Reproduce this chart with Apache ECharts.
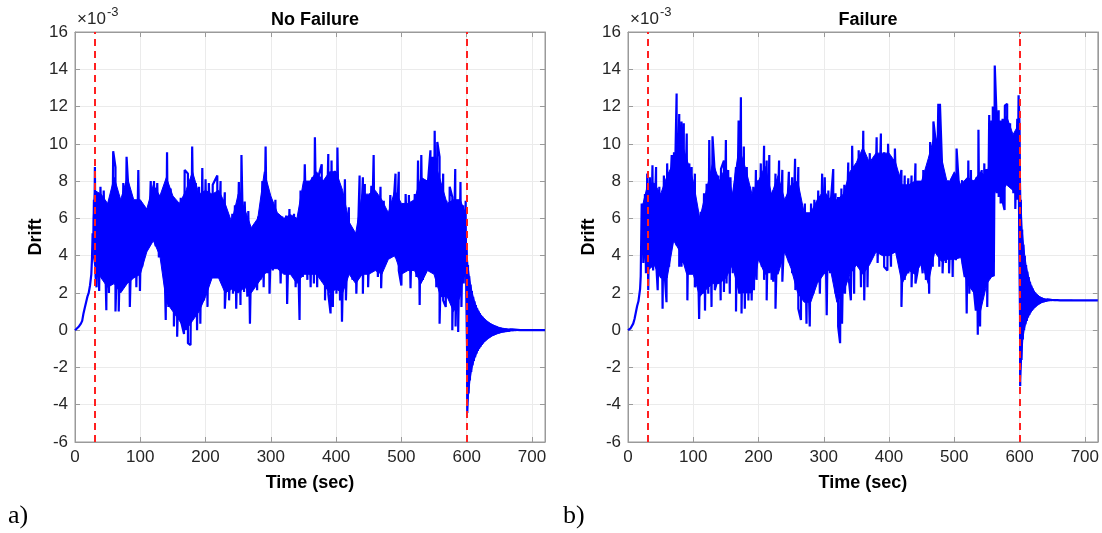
<!DOCTYPE html>
<html>
<head>
<meta charset="utf-8">
<script src="https://cdn.jsdelivr.net/npm/echarts@6/dist/echarts.min.js"></script>
<style>
html,body{margin:0;padding:0;background:#fff;}
#chart{width:1102px;height:533px;}
</style>
</head>
<body>
<div id="chart"></div>
<script>
// ---------------- DATA (drift values in units of 1e-3, time in sec) ----------------
const TITLES = ['No Failure', 'Failure'];
const PANEL_TAGS = ['a)', 'b)'];
const X_NAME = 'Time (sec)';
const Y_NAME = 'Drift';
const X_MIN = 0, X_MAX = 720, X_STEP = 100;
const Y_MIN = -6, Y_MAX = 16, Y_STEP = 2;
const EVENT_TIMES = [30, 600];

// Panel a (No Failure)
const rampA = [[0,0],[3,0.05],[6,0.2],[9,0.35],[11,0.5],[13,0.9],[15,1.2],[17,1.5],[19,1.8],[21,2.0],[23,2.4],[25,3.0],[26,3.8]];
const peaksA = [[27,5.2],[29,7.0],[30.5,8.75],[34,7.0],[39,7.7],[44,7.5],[49,6.8],[53.5,7.0],[58.5,9.6],[62,8.75],[67,6.6],[71,7.0],[74,7.9],[79,9.3],[83,6.8],[88,6.6],[93,6.8],[97,8.6],[101.5,6.1],[106.5,5.9],[111.5,6.1],[116,8.0],[121,8.0],[126,7.9],[130,6.8],[135,7.4],[141,9.55],[146.5,7.6],[151.5,7.1],[156.5,5.9],[162,7.1],[168,8.6],[173,8.4],[179.5,9.85],[185,7.9],[190,7.7],[195,8.7],[200,8.1],[205,7.9],[211,7.8],[218,8.3],[223,8.0],[229.5,7.4],[236,5.35],[241,6.25],[245,6.7],[251,7.95],[255,9.4],[260,6.9],[265.5,6.4],[270.5,5.0],[275.5,5.45],[280.5,6.1],[287,8.0],[292,9.85],[297,7.1],[302,6.8],[307,7.0],[312.5,5.9],[317.5,6.1],[323.5,6.15],[328.5,6.5],[335.5,6.25],[340.5,5.9],[345.5,7.5],[352,8.9],[357,8.0],[363.5,8.2],[367.5,10.35],[372.5,8.2],[378,8.9],[383,7.0],[388,9.45],[393,9.1],[398,8.55],[402,9.8],[407,7.5],[413.5,8.1],[419.5,6.6],[425,4.8],[430,4.65],[436,8.3],[441,8.2],[444,7.85],[449,7.15],[454,7.75],[457.5,9.4],[461.5,6.8],[468,7.7],[473,6.95],[478,6.35],[483,7.25],[487,6.25],[491,8.4],[496,8.5],[501.5,6.4],[506.5,7.3],[511.5,7.25],[517,6.8],[520.5,7.3],[525.5,9.1],[530.5,9.4],[535.5,7.7],[541,8.05],[544.5,9.65],[547.5,9.3],[551,10.7],[555,10.1],[558.5,9.3],[564,8.4],[569,6.95],[574,7.7],[578,7.15],[582.5,8.65],[587,6.05],[590.5,7.95],[594.5,6.7],[598.5,6.95]];
const troughsA = [[28,4.3],[29.5,4.5],[31.5,2.9],[33,2.3],[37,2.1],[42,3.75],[48,1.07],[52,2.0],[57,3.6],[62,1.0],[67,1.0],[72,3.2],[77,2.7],[84,1.25],[88,3.0],[94,2.3],[99.5,2.1],[103,3.4],[108,4.3],[113,4.6],[118,5.0],[123.5,4.5],[128.5,3.9],[133.5,3.75],[139,0.55],[143,1.25],[147.5,1.25],[151.5,0.2],[156.5,-0.35],[162,0.55],[167,-0.2],[173,-0.7],[177,-0.8],[183,0.9],[187,0],[192,0.35],[197.5,1.6],[203,1.25],[210,3.0],[218,2.85],[223,3.2],[229.5,1.15],[236,1.6],[242,1.95],[247,1.15],[253.5,1.35],[259,2.05],[264,1.8],[268,0.35],[272.5,2.3],[279,2.15],[284,2.7],[289,2.3],[294.5,3.05],[298,1.95],[303,3.2],[308,3.4],[315,2.5],[320,3.2],[325,1.4],[330,3.4],[338,2.3],[344,0.55],[349,2.85],[356,2.7],[361,2.3],[366,2.5],[371,2.3],[378,3.05],[383,1.6],[388,1.95],[391.5,0.9],[395,1.25],[400.5,1.95],[406,1.6],[409,0.45],[415,1.6],[420,3.4],[425,2.7],[431,1.95],[436,3.6],[441,1.95],[444,4.1],[449,2.3],[454,3.75],[459,3.3],[464,2.85],[469,2.25],[474,3.75],[481,4.45],[486,4.45],[491,3.9],[496,3.2],[500,2.4],[505,3.55],[510,3.4],[514,2.25],[518,3.55],[523,2.85],[528,1.35],[533,2.7],[538,3.2],[544.5,3.75],[549.5,3.2],[553.5,2.3],[558.5,0.35],[564,1.6],[568,1.25],[573,1.95],[578,0.0],[583,0.2],[587,-0.1],[592,1.25],[595.5,2.5],[598.5,3.75]];
// solid core of the oscillation: [time, upper edge, lower edge]
const coreA = [[28,6.0,4.0],[30,7.5,3.5],[40,7.3,2.8],[50,6.8,2.3],[60,8.2,2.5],[70,7.0,2.0],[80,8.2,2.5],[90,7.0,2.8],[100,7.0,3.0],[110,6.5,4.2],[120,7.8,4.8],[130,7.2,4.0],[140,8.2,1.5],[150,7.2,1.0],[160,6.8,0.5],[170,7.5,0.0],[180,8.5,0.5],[190,7.3,1.0],[200,7.5,1.8],[210,7.3,2.8],[220,7.5,2.8],[230,6.8,2.0],[240,5.8,2.2],[250,7.3,2.0],[260,6.5,2.3],[270,5.5,2.0],[280,6.0,2.5],[290,8.5,3.0],[300,7.2,3.3],[310,6.3,3.3],[320,6.0,3.0],[330,6.2,3.0],[340,6.0,2.5],[350,8.0,3.0],[360,8.0,3.0],[370,8.5,3.0],[380,8.0,2.5],[390,8.5,2.0],[400,8.5,2.2],[410,7.5,2.0],[420,5.8,3.0],[430,5.2,2.5],[440,7.3,3.0],[450,7.3,3.0],[460,7.5,3.2],[470,7.0,3.0],[480,6.3,3.8],[490,7.5,4.0],[500,6.8,3.0],[510,6.8,3.2],[520,7.0,3.2],[530,8.2,2.5],[540,8.0,3.2],[550,9.2,3.0],[560,8.0,1.8],[570,6.8,1.8],[580,7.0,1.0],[590,7.0,1.8],[598,6.3,3.8]];
// free-vibration decay after t = 600 s, sampled every 2 s (top swing, bottom swing)
const decayTopA = [4.3,3.5,2.9,2.45,2.1,1.8,1.55,1.35,1.18,1.04,0.92,0.82,0.73,0.65,0.58,0.52,0.46,0.41,0.37,0.33,0.29,0.26,0.23,0.2,0.17,0.15,0.13,0.11,0.1,0.09,0.08,0.07,0.06,0.05,0.04,0.04,0.03,0.03,0.02,0.02,0.02];
const decayBotA = [-4.45,-3.4,-2.7,-2.25,-1.9,-1.65,-1.45,-1.27,-1.12,-1.0,-0.9,-0.8,-0.71,-0.63,-0.56,-0.5,-0.45,-0.4,-0.35,-0.31,-0.28,-0.25,-0.22,-0.19,-0.17,-0.15,-0.13,-0.11,-0.1,-0.09,-0.08,-0.07,-0.06,-0.05,-0.04,-0.04,-0.03,-0.03,-0.02,-0.02,-0.02];
const tailA = [[682,0],[720,0]];

// Panel b (Failure)
const rampB = [[0,0],[2,0.03],[4,0.1],[6,0.2],[8,0.35],[10,0.6],[12,0.95],[14,1.3],[16,1.55],[17.5,1.6],[18.5,2.2]];
const peaksB = [[21,6.8],[22.5,6.8],[26,7.3],[29.5,8.4],[33.5,8.2],[37.5,8.85],[43,8.75],[48,7.7],[51.5,7.0],[55,8.3],[60,8.95],[64.5,7.35],[67,9.4],[70.5,9.55],[74.5,12.7],[78.5,11.6],[82,11.2],[85.5,11.1],[90,10.55],[94,8.95],[97.5,8.75],[102.5,8.4],[106,6.1],[111.5,6.35],[116.5,7.35],[120.5,7.85],[124.5,10.2],[129.5,10.4],[133,8.4],[138.5,8.3],[142.5,8.65],[147,9.1],[150,10.2],[153.5,8.6],[157,8.2],[161.5,6.8],[165.5,8.75],[169.5,11.25],[173,12.5],[177.5,9.85],[182,8.75],[187,7.7],[192,7.7],[196,8.6],[199.5,8.05],[203.5,8.95],[208.5,9.9],[212.5,9.1],[216.5,9.4],[220,7.35],[222.5,7.5],[226,8.4],[231.5,9.1],[236.5,8.6],[241.5,6.8],[246.5,8.5],[251.5,8.2],[256,9.2],[261,8.75],[266,6.5],[271,6.8],[275,5.35],[280.5,6.8],[285.5,7.0],[291.5,7.5],[297.5,8.4],[301.5,8.2],[307,7.5],[311,7.0],[314.5,8.65],[318,7.35],[322,7.15],[327,7.6],[331.5,7.8],[337.5,9.0],[343.5,9.9],[347.5,8.6],[353.5,9.65],[360.5,10.7],[365.5,9.1],[370.5,9.5],[375.5,8.4],[381,10.35],[387.5,10.55],[392.5,9.55],[398.5,10.0],[404,9.0],[409,9.75],[414,7.7],[419,8.6],[424,8.3],[429.5,8.15],[434.5,8.3],[440.5,8.95],[447.5,7.85],[452.5,8.6],[457.5,8.4],[463,10.1],[468,11.2],[472,10.0],[475.5,12.15],[478,12.15],[482,8.05],[487,7.8],[490.5,8.05],[496,7.5],[499.5,8.2],[503.5,9.75],[507.5,7.5],[512,8.05],[516.5,7.7],[521.5,9.1],[525.5,8.6],[530,8.05],[534,8.2],[537,10.75],[542,8.6],[546,8.95],[549.5,8.65],[553.5,11.55],[557,11.25],[559,12.0],[562,14.2],[565,11.25],[568,11.8],[571,11.25],[574,11.35],[577.5,12.05],[581,12.15],[585.5,11.1],[589.5,10.35],[593,10.35],[596.5,11.35],[598.5,12.6]];
const troughsB = [[19.5,2.9],[21.5,4.5],[23.5,3.6],[27.5,3.05],[31,2.15],[34.5,3.4],[38.5,3.2],[43,3.75],[45.5,2.15],[49,3.4],[53,1.15],[56.5,2.85],[59,1.5],[63,3.4],[67,4.45],[70.5,5.35],[74.5,4.55],[78.5,3.4],[82,3.4],[85.5,3.6],[91,1.6],[95,3.75],[99,3.4],[102.5,2.3],[105,3.95],[109,0.6],[114.5,1.95],[118,1.05],[123,1.95],[128,1.25],[133,2.15],[137,2.7],[142,1.6],[147,2.05],[151,2.5],[156,1.95],[160.5,3.05],[165.5,1.0],[170.5,1.95],[174,0.9],[179,1.15],[184.5,1.6],[189.5,1.6],[193,2.15],[197,2.7],[201,3.75],[205,3.4],[208.5,2.7],[212.5,1.6],[216.5,3.05],[220,2.7],[222.5,2.6],[226,1.15],[231.5,3.6],[236.5,2.6],[241.5,4.45],[246.5,3.65],[251.5,3.05],[256.5,2.15],[261,1.15],[265,0.55],[269,2.15],[273.5,0.35],[278.5,0.2],[284,1.95],[289,2.85],[294,1.95],[299,3.3],[304.5,0.8],[309.5,3.05],[314.5,3.95],[318,1.95],[322,0.2],[325,-0.7],[328,0.35],[332.5,1.95],[337.5,3.05],[341.5,1.6],[346.5,1.95],[351.5,3.6],[357,2.3],[362,1.6],[367,2.3],[372,3.75],[377.5,4.45],[382.5,3.6],[387.5,4.3],[392.5,3.4],[397.5,3.2],[403,3.4],[408,4.85],[413,4.45],[419,1.25],[424,2.7],[429.5,3.05],[434.5,2.3],[440.5,2.5],[444,3.2],[447.5,4.45],[451.5,3.05],[456.5,2.7],[461.5,1.95],[467,3.4],[472,4.45],[477,3.4],[482,3.05],[487,3.6],[492,3.05],[497.5,2.85],[502.5,3.75],[507.5,3.95],[512.5,3.6],[516,2.85],[519,0.9],[523,1.95],[526.5,3.05],[530,2.15],[533,1.05],[536,-0.25],[539.5,0.2],[543.5,1.95],[547,3.6],[550.5,1.25],[554.5,3.2],[558.5,2.85],[560.5,2.9],[561.5,8.05],[565,7.35],[568,7.15],[571,6.8],[574,6.9],[577,6.45],[581,7.85],[585.5,8.05],[590.5,7.35],[593.5,6.5],[597,7.0]];
const coreB = [[21,6.5,4.6],[30,7.8,3.2],[40,7.9,3.5],[50,7.3,2.8],[60,8.3,2.8],[70,9.0,4.8],[80,10.3,4.2],[90,9.2,3.0],[100,8.0,3.0],[110,6.0,1.8],[120,7.5,2.2],[130,9.0,2.5],[140,8.0,2.5],[150,8.8,2.8],[160,7.3,3.5],[170,9.8,2.0],[180,8.7,2.0],[190,7.3,2.0],[200,8.0,3.8],[210,8.8,3.0],[220,7.3,3.2],[230,8.3,3.0],[240,7.0,4.2],[250,7.8,3.3],[260,8.0,2.0],[270,6.3,1.5],[280,6.3,1.5],[290,7.0,2.5],[300,7.5,3.0],[310,7.0,3.3],[320,7.0,1.5],[330,7.3,2.0],[340,8.5,3.0],[350,9.0,3.5],[360,9.8,3.0],[370,9.0,3.5],[380,9.5,4.2],[390,9.5,4.0],[400,9.5,4.0],[410,9.0,4.2],[420,7.8,2.5],[430,7.8,3.2],[440,8.0,3.0],[450,8.0,3.6],[460,9.2,2.5],[470,10.5,4.2],[480,9.3,3.7],[490,7.8,3.8],[500,8.5,3.8],[510,7.8,3.9],[520,8.2,2.5],[530,8.0,2.0],[540,8.5,1.0],[550,8.2,2.5],[560,10.5,3.0],[561,11.0,7.5],[570,11.0,7.3],[580,11.5,7.8],[590,10.5,7.5],[598,11.0,7.5]];
const decayTopB = [11.0,7.0,5.4,4.6,4.0,3.5,3.15,2.85,2.6,2.4,2.25,2.12,2.02,1.94,1.87,1.82,1.78,1.74,1.71,1.69,1.67,1.66,1.65,1.64,1.63,1.62,1.62,1.61,1.61,1.61,1.6,1.6,1.6,1.6,1.6,1.6,1.6,1.6,1.6,1.6,1.6];
const decayBotB = [-3.0,-1.6,-0.5,0.0,0.3,0.5,0.68,0.82,0.95,1.05,1.13,1.2,1.27,1.33,1.38,1.42,1.46,1.49,1.51,1.53,1.55,1.56,1.57,1.58,1.58,1.59,1.59,1.59,1.6,1.6,1.6,1.6,1.6,1.6,1.6,1.6,1.6,1.6,1.6,1.6,1.6];
const tailB = [[682,1.6],[720,1.6]];

const DECAY_START = 600, DECAY_STEP = 2;

// ---------------- BUILD ----------------
function decayPts(arr, offset) {
  return arr.map((v, i) => [DECAY_START + i * DECAY_STEP + offset, v]);
}
// oscillating trace: ramp, then swings alternating between read peaks and troughs
function buildLine(ramp, peaks, troughs, dTop, dBot, tail) {
  const pts = ramp.map(p => [p[0], p[1]]);
  const noise = peaks.map(p => [p[0], p[1], 0]).concat(troughs.map(p => [p[0], p[1], 1]));
  noise.sort((a, b) => a[0] - b[0] || a[2] - b[2]);
  noise.forEach(p => pts.push([p[0], p[1]]));
  const top = decayPts(dTop, 0), bot = decayPts(dBot, DECAY_STEP / 2);
  for (let i = 0; i < top.length; i++) { pts.push(top[i]); pts.push(bot[i]); }
  tail.forEach(p => pts.push([p[0], p[1]]));
  return pts;
}
// solid region where the fast oscillation overlaps itself
function buildBand(core, dTop, dBot) {
  const up = core.map(c => [c[0], c[1]]).concat(decayPts(dTop, 0));
  const lo = core.map(c => [c[0], c[2]]).concat(decayPts(dBot, DECAY_STEP / 2));
  return up.concat(lo.reverse());
}
const lineA = buildLine(rampA, peaksA, troughsA, decayTopA, decayBotA, tailA);
const lineB = buildLine(rampB, peaksB, troughsB, decayTopB, decayBotB, tailB);
const bandA = buildBand(coreA, decayTopA, decayBotA);
const bandB = buildBand(coreB, decayTopB, decayBotB);

const FONT = '"Liberation Sans", Arial, Helvetica, sans-serif';
const LBL = '#262626';
const BLUE = '#0000ff';
const GRIDS = [{left: 75, top: 32, width: 470, height: 410}, {left: 628, top: 32, width: 470, height: 410}];

const chart = echarts.init(document.getElementById('chart'), null, {renderer: 'canvas'});

const grid = GRIDS.map(g => ({left: g.left, top: g.top, width: g.width, height: g.height, show: true, borderColor: '#9a9a9a', borderWidth: 1, backgroundColor: 'transparent'}));

const xAxis = [], yAxis = [];
GRIDS.forEach((g, i) => {
  xAxis.push({
    type: 'value', gridIndex: i, position: 'bottom', min: X_MIN, max: X_MAX, interval: X_STEP,
    name: X_NAME, nameLocation: 'middle', nameGap: 32,
    nameTextStyle: {fontFamily: FONT, fontWeight: 'bold', fontSize: 18, color: '#000'},
    axisLine: {show: true, onZero: false, lineStyle: {color: '#9a9a9a', width: 1}},
    axisTick: {show: true, inside: true, length: 5, lineStyle: {color: '#9a9a9a'}},
    axisLabel: {fontFamily: FONT, fontSize: 17, color: LBL, margin: 7, showMaxLabel: false},
    splitLine: {show: true, lineStyle: {color: '#ebebeb', width: 1}}
  });
  xAxis.push({
    type: 'value', gridIndex: i, position: 'top', min: X_MIN, max: X_MAX, interval: X_STEP,
    axisLine: {show: true, onZero: false, lineStyle: {color: '#9a9a9a'}},
    axisTick: {show: true, inside: true, length: 5, lineStyle: {color: '#9a9a9a'}},
    axisLabel: {show: false}, splitLine: {show: false}
  });
  yAxis.push({
    type: 'value', gridIndex: i, position: 'left', min: Y_MIN, max: Y_MAX, interval: Y_STEP,
    name: Y_NAME, nameLocation: 'middle', nameGap: 27, nameRotate: 90,
    nameTextStyle: {fontFamily: FONT, fontWeight: 'bold', fontSize: 18, color: '#000'},
    axisLine: {show: true, onZero: false, lineStyle: {color: '#9a9a9a', width: 1}},
    axisTick: {show: true, inside: true, length: 5, lineStyle: {color: '#9a9a9a'}},
    axisLabel: {fontFamily: FONT, fontSize: 17, color: LBL, margin: 7},
    splitLine: {show: true, lineStyle: {color: '#ebebeb', width: 1}}
  });
  yAxis.push({
    type: 'value', gridIndex: i, position: 'right', min: Y_MIN, max: Y_MAX, interval: Y_STEP,
    axisLine: {show: true, onZero: false, lineStyle: {color: '#9a9a9a'}},
    axisTick: {show: true, inside: true, length: 5, lineStyle: {color: '#9a9a9a'}},
    axisLabel: {show: false}, splitLine: {show: false}
  });
});

const series = [];
[[lineA, bandA], [lineB, bandB]].forEach((pair, i) => {
  const band = pair[1];
  series.push({
    type: 'custom', xAxisIndex: i * 2, yAxisIndex: i * 2, data: [[band[0][0], band[0][1]]],
    silent: true, animation: false, z: 1, clip: true,
    renderItem: function (params, api) {
      return {
        type: 'polygon',
        shape: {points: band.map(p => api.coord(p))},
        style: {fill: BLUE, stroke: BLUE, lineWidth: 1}
      };
    }
  });
  series.push({
    type: 'line', xAxisIndex: i * 2, yAxisIndex: i * 2, data: pair[0],
    showSymbol: false, symbol: 'none', animation: false, silent: true, z: 2,
    lineStyle: {color: BLUE, width: 2.2}
  });
  series.push({
    type: 'line', xAxisIndex: i * 2, yAxisIndex: i * 2, data: [], z: 5, animation: false, silent: true,
    markLine: {
      silent: true, symbol: ['none', 'none'], animation: false, label: {show: false},
      lineStyle: {color: '#ff2020', width: 2, type: [7, 5]},
      data: EVENT_TIMES.map(t => ({xAxis: t}))
    }
  });
});

const title = GRIDS.map((g, i) => ({
  text: TITLES[i], left: g.left + g.width / 2, top: 6, textAlign: 'center',
  textStyle: {fontFamily: FONT, fontWeight: 'bold', fontSize: 18, color: '#000'}
}));

const graphic = [];
GRIDS.forEach((g, i) => {
  graphic.push({type: 'text', left: g.left + 2, top: 11, silent: true,
    style: {text: '×10', font: '17px ' + FONT, fill: LBL}});
  graphic.push({type: 'text', left: g.left + 32, top: 6, silent: true,
    style: {text: '-3', font: '13px ' + FONT, fill: LBL}});
});
graphic.push({type: 'text', left: 8, top: 503, silent: true, style: {text: PANEL_TAGS[0], font: '26px "Liberation Serif", "Times New Roman", serif', fill: '#000'}});
graphic.push({type: 'text', left: 563, top: 503, silent: true, style: {text: PANEL_TAGS[1], font: '26px "Liberation Serif", "Times New Roman", serif', fill: '#000'}});

chart.setOption({animation: false, backgroundColor: '#fff', title, grid, xAxis, yAxis, series, graphic});
</script>
</body>
</html>
